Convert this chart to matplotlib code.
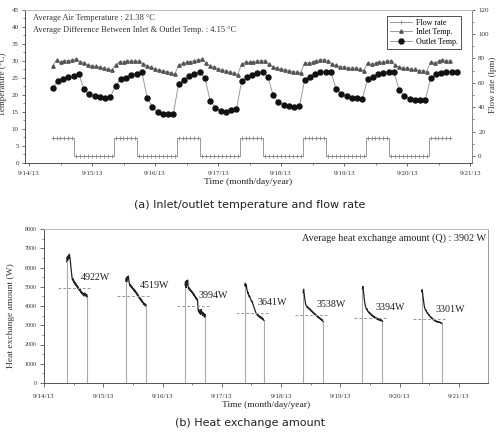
import matplotlib
matplotlib.use("Agg")
import matplotlib.pyplot as plt
import numpy as np

day_labels = ["9/14/13", "9/15/13", "9/16/13", "9/17/13",
              "9/18/13", "9/19/13", "9/20/13", "9/21/13"]

# ---- (a) temperatures / flow; hours counted from 9/14/13 00:00 ----
outlet_start_h, outlet_step_h = 9, 2
outlet_temp = [
    21.9, 24.1, 24.7, 25.1, 25.5, 26.1, 21.6, 20.1, 19.7, 19.4, 19.2, 19.3,
    22.7, 24.7, 25.0, 25.7, 26.1, 26.7, 19.2, 16.5, 15.0, 14.3, 14.4, 14.5,
    23.2, 24.3, 25.5, 26.1, 26.6, 25.0, 18.3, 16.2, 15.3, 15.0, 15.5, 15.7,
    23.9, 25.1, 25.8, 26.3, 26.6, 25.3, 19.9, 17.9, 17.0, 16.6, 16.4, 16.6,
    24.3, 25.3, 26.0, 26.8, 26.8, 26.8, 21.7, 20.3, 19.6, 19.2, 19.2, 18.9,
    24.6, 25.3, 26.0, 26.4, 26.8, 26.8, 21.4, 19.6, 18.9, 18.5, 18.4, 18.5,
    24.9, 26.0, 26.4, 26.8, 26.8, 26.6,
]

inlet_start_h, inlet_step_h = 9, 1.5
inlet_temp = [
    28.5, 30.2, 29.6, 30.0, 30.0, 30.2, 30.4, 29.7, 29.3, 28.8, 28.5, 28.3, 28.0, 27.8, 27.5, 27.2,
    28.8, 29.7, 29.7, 29.8, 29.8, 30.0, 29.8, 29.1, 28.5, 28.0, 27.6, 27.2, 27.0, 26.7, 26.4, 26.0,
    28.6, 29.2, 29.5, 29.6, 30.0, 30.3, 30.4, 29.3, 28.5, 28.0, 27.6, 27.2, 26.9, 26.6, 26.3, 25.9,
    29.0, 29.6, 29.5, 29.6, 29.8, 30.0, 30.0, 28.9, 28.2, 27.8, 27.5, 27.3, 27.1, 26.8, 26.6, 26.4,
    29.3, 29.3, 29.6, 30.0, 30.3, 30.3, 30.0, 28.9, 28.6, 28.2, 28.2, 27.8, 27.8, 27.8, 27.5, 27.1,
    29.3, 28.9, 29.3, 29.6, 29.6, 30.0, 30.0, 28.6, 28.2, 27.8, 27.8, 27.5, 27.5, 27.1, 27.1, 26.8,
    29.6, 29.3, 29.8, 30.3, 30.0, 30.0,
]

# flow rate (lpm), same sampling as inlet: pump on 15 lpm in daytime, off at night
flow_day = [15] * 6 + [0] * 10
flow_rate = flow_day * 6 + [15] * 6

# ---- (b) heat exchange amount (W) per operating day ----
hx_start_h = [9.2, 33.1, 57.1, 81.3, 104.9, 128.9, 152.9]
hx_end_h = [17.5, 41.3, 65.3, 89.0, 113.0, 137.0, 161.0]
hx_traces = [
    [6300, 6550, 6380, 6620, 6480, 6700, 6520, 6300, 6000, 5750, 5500, 5350, 5420, 5250,
     5300, 5150, 5220, 5080, 5150, 5000, 5060, 4920, 4980, 4850, 4900, 4780, 4850, 4700,
     4760, 4640, 4700, 4580, 4650, 4520, 4680, 4560, 4620, 4500, 4600, 4480],
    [5300, 5450, 5260, 5520, 5380, 5560, 5300, 5150, 5050, 5120, 4980, 5040, 4920, 4980,
     4860, 4900, 4780, 4840, 4720, 4780, 4650, 4700, 4560, 4620, 4480, 4520, 4400, 4450,
     4320, 4380, 4250, 4300, 4180, 4220, 4100, 4150, 4050, 4120, 4000, 4060],
    [5100, 5280, 4950, 5320, 5100, 5350, 5000, 4880, 4950, 4820, 4880, 4760, 4800, 4700,
     4740, 4620, 4680, 4540, 4600, 4460, 4500, 4380, 4420, 4300, 4350, 3850, 3700, 3800,
     3620, 3780, 3560, 3820, 3600, 3700, 3500, 3650, 3480, 3600, 3420, 3550],
    [5050, 5180, 5000, 5120, 4900, 4800, 4650, 4700, 4550, 4480, 4520, 4400, 4350, 4300,
     4220, 4250, 4150, 4080, 4000, 3920, 3850, 3780, 3700, 3640, 3600, 3560, 3500, 3540,
     3460, 3500, 3420, 3470, 3380, 3440, 3350, 3400, 3300, 3360, 3280, 3250],
    [4700, 4870, 4650, 4450, 4250, 4100, 4020, 3980, 3920, 3960, 3870, 3900, 3820, 3860,
     3780, 3800, 3720, 3760, 3680, 3700, 3620, 3650, 3580, 3600, 3520, 3560, 3480, 3500,
     3430, 3460, 3380, 3420, 3340, 3380, 3300, 3340, 3260, 3300, 3220, 3200],
    [4900, 5020, 4800, 4550, 4300, 4120, 3980, 3900, 3820, 3860, 3760, 3700, 3720, 3640,
     3660, 3580, 3620, 3540, 3560, 3480, 3520, 3440, 3460, 3400, 3440, 3360, 3400, 3340,
     3380, 3300, 3350, 3280, 3330, 3260, 3310, 3240, 3290, 3230, 3260, 3200],
    [4740, 4850, 4620, 4400, 4200, 4020, 3900, 3820, 3750, 3780, 3680, 3620, 3640, 3560,
     3520, 3540, 3460, 3420, 3440, 3380, 3350, 3370, 3300, 3280, 3310, 3240, 3260, 3200,
     3230, 3180, 3210, 3160, 3190, 3150, 3180, 3140, 3160, 3120, 3140, 3100],
]
hx_avg = [4922, 4519, 3994, 3641, 3538, 3394, 3301]

serif = "Liberation Serif"
tick_fs = 5

fig = plt.figure(figsize=(4.99, 4.32), dpi=100)

# ================= (a) =================
ax1 = fig.add_axes([25 / 499, 1 - 163 / 432, 447 / 499, 153.5 / 432])
ax2 = ax1.twinx()

t_in = (inlet_start_h + inlet_step_h * np.arange(len(inlet_temp))) / 24
t_out = (outlet_start_h + outlet_step_h * np.arange(len(outlet_temp))) / 24
t_flow = (inlet_start_h + inlet_step_h * np.arange(len(flow_rate))) / 24

ln_flow, = ax2.plot(t_flow, flow_rate, drawstyle="steps-mid", color="#9a9a9a",
                    lw=0.7, marker="+", ms=3.5, mew=0.6, mec="#888888")
ln_in, = ax1.plot(t_in, inlet_temp, color="#9a9a9a", lw=0.7, marker="^",
                  ms=2.4, mfc="#555555", mec="#555555")
ln_out, = ax1.plot(t_out, outlet_temp, color="#9a9a9a", lw=0.7, marker="o",
                   ms=3.6, mfc="#111111", mec="#111111")

ax1.set_xlim(-4 / 63, 443 / 63)
ax1.set_ylim(0, 45)
ax2.set_ylim(-5.75, 120)
ax1.set_xticks(range(8))
ax1.set_xticklabels(day_labels, fontsize=tick_fs, family=serif, color="#333333")
ax1.set_xticks(np.arange(0.5, 7, 1), minor=True)
ax1.set_yticks(range(0, 46, 5))
ax1.set_yticks(np.arange(2.5, 45, 5), minor=True)
ax2.set_yticks(range(0, 121, 20))
ax2.set_yticks(range(10, 120, 20), minor=True)
for ax in (ax1, ax2):
    ax.tick_params(which="major", direction="out", length=2.5, width=0.6,
                   color="#555555", labelsize=tick_fs, pad=2, labelcolor="#333333")
    ax.tick_params(which="minor", direction="out", length=1.3, width=0.5,
                   color="#555555")
    for lbl in ax.get_yticklabels():
        lbl.set_family(serif)
ax1.tick_params(axis="x", which="major", pad=3.5)

for ax in (ax1, ax2):
    ax.spines["left"].set_color("#555555")
    ax.spines["bottom"].set_color("#555555")
    ax.spines["top"].set_color("#bbbbbb")
    ax.spines["right"].set_color("#888888")
    for s in ax.spines.values():
        s.set_linewidth(0.7)

ax1.set_ylabel("Temperature (°C)", fontsize=6.5, family=serif, color="#333333")
ax1.yaxis.set_label_coords(-0.041, 0.51)
ax2.set_ylabel("Flow rate (lpm)", fontsize=6.5, family=serif, color="#333333")
ax2.yaxis.set_label_coords(1.037, 0.51)
ax1.set_xlabel("Time (month/day/year)", fontsize=6.8, family=serif,
               color="#222222", labelpad=1.5)

ax1.text(0.018, 0.945, "Average Air Temperature : 21.38 °C", transform=ax1.transAxes,
         fontsize=6, family=serif, color="#333333", va="center")
ax1.text(0.018, 0.868, "Average Difference Between Inlet & Outlet Temp. : 4.15 °C",
         transform=ax1.transAxes, fontsize=6, family=serif, color="#333333", va="center")

leg = ax2.legend([ln_flow, ln_in, ln_out], ["Flow rate", "Inlet Temp.", "Outlet Temp."],
                 loc="upper right", bbox_to_anchor=(0.985, 0.985), fancybox=False,
                 framealpha=1, edgecolor="#333333", prop={"family": serif, "size": 5.8},
                 handlelength=2.8, borderpad=0.35, labelspacing=0.2, handletextpad=0.5)
leg.get_frame().set_linewidth(0.6)

fig.text(250 / 499, 1 - 205 / 432, "(a) Inlet/outlet temperature and flow rate",
         ha="center", va="center", fontsize=8, family="DejaVu Sans", color="#222222")

# ================= (b) =================
axb = fig.add_axes([44 / 499, 1 - 383 / 432, 444 / 499, 154 / 432])

for start, end, vals, avg in zip(hx_start_h, hx_end_h, hx_traces, hx_avg):
    t = np.linspace(start, end, len(vals)) / 24
    axb.plot([t[0], t[0]], [0, vals[0]], color="#aaaaaa", lw=0.8)
    axb.plot([t[-1], t[-1]], [vals[-1], 0], color="#aaaaaa", lw=0.8)
    axb.plot(t, vals, color="#222222", lw=0.9)
    axb.plot([(start - 3.4) / 24, (end + 2.0) / 24], [avg, avg], color="#999999",
             lw=0.7, ls=(0, (3, 2)))
    axb.annotate(f"{avg}W", ((end - 2.6) / 24, avg), xytext=(0, 7.5),
                 textcoords="offset points", fontsize=7.2, family=serif,
                 color="#222222", va="center")

axb.set_xlim(0, 7.49)
axb.set_ylim(0, 8000)
axb.set_xticks(range(8))
axb.set_xticklabels(day_labels, fontsize=tick_fs, family=serif, color="#333333")
axb.set_xticks(np.arange(0.5, 7.4, 1), minor=True)
axb.set_yticks(range(0, 8001, 1000))
axb.set_yticks(range(500, 8000, 1000), minor=True)
for lbl in axb.get_yticklabels():
    lbl.set_family(serif)
    lbl.set_fontsize(4.3)
axb.tick_params(which="major", direction="out", length=3, width=0.6,
                color="#555555", pad=2, labelcolor="#333333")
axb.tick_params(axis="x", which="major", pad=5)
axb.tick_params(which="minor", direction="out", length=1.5, width=0.5,
                color="#555555")
axb.spines["left"].set_color("#555555")
axb.spines["bottom"].set_color("#555555")
axb.spines["top"].set_color("#bbbbbb")
axb.spines["right"].set_color("#999999")
for s in axb.spines.values():
    s.set_linewidth(0.7)

axb.set_ylabel("Heat exchange amount (W)", fontsize=6.8, family=serif, color="#333333")
axb.yaxis.set_label_coords(-0.065, 0.435)
axb.set_xlabel("Time (month/day/year)", fontsize=6.8, family=serif,
               color="#222222", labelpad=1.5)
axb.text(0.995, 0.94, "Average heat exchange amount (Q) : 3902 W",
         transform=axb.transAxes, ha="right", va="center", fontsize=7.3,
         family=serif, color="#222222")

fig.text(250 / 499, 1 - 423 / 432, "(b) Heat exchange amount",
         ha="center", va="center", fontsize=8, family="DejaVu Sans", color="#222222")

fig.savefig("out.png", dpi=100, facecolor="white")
